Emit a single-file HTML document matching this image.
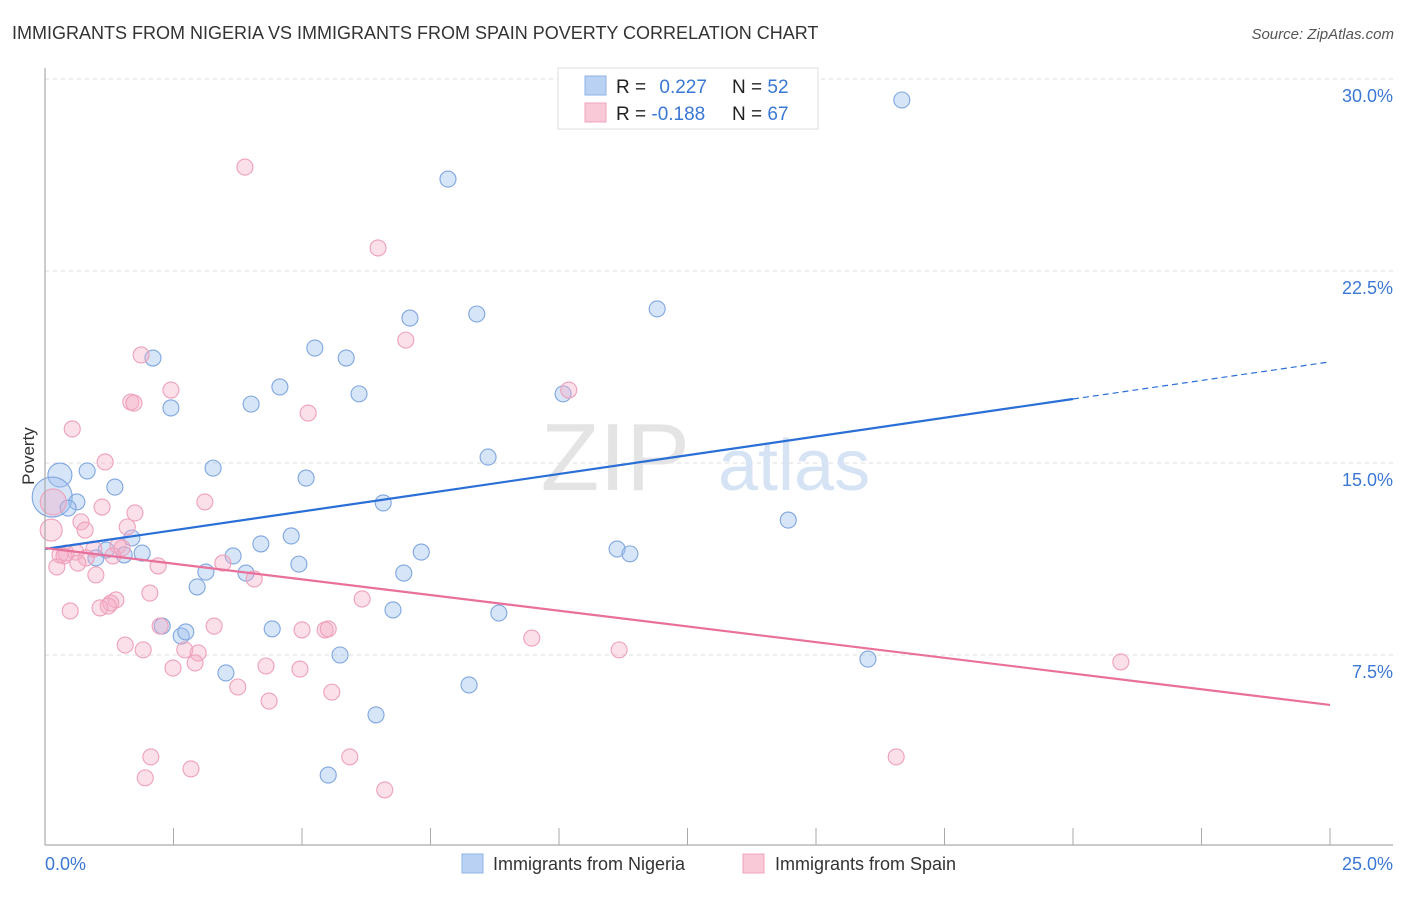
<!DOCTYPE html>
<html><head><meta charset="utf-8">
<style>
body{margin:0;background:#fff;font-family:"Liberation Sans",sans-serif;}
svg text{font-family:"Liberation Sans",sans-serif;}
</style></head>
<body>
<svg id="chart" width="1406" height="892" xmlns="http://www.w3.org/2000/svg">
<text x="12" y="39" font-size="18" fill="#333">IMMIGRANTS FROM NIGERIA VS IMMIGRANTS FROM SPAIN POVERTY CORRELATION CHART</text>
<text x="1394" y="39" font-size="15" fill="#555" font-style="italic" text-anchor="end">Source: ZipAtlas.com</text>
<g id="grid"></g>
<text x="690" y="490" font-size="96" fill="#e4e4e4" font-family="Liberation Serif" text-anchor="end">ZIP</text>
<text x="718" y="490" font-size="72" fill="#d6e3f5">atlas</text>
<g id="pts"></g>
<g id="lines"></g>
<line x1="45" y1="68" x2="45" y2="845" stroke="#aaa" stroke-width="1.2"/>
<line x1="45" y1="845" x2="1393" y2="845" stroke="#aaa" stroke-width="1.2"/>
<g id="axes"></g>
<text x="34" y="456" font-size="17" fill="#333" text-anchor="middle" transform="rotate(-90 34 456)">Poverty</text>
<g>
<rect x="558" y="68" width="260" height="61" fill="#fff" stroke="#ddd"/>
<rect x="585" y="76" width="21" height="19" fill="#b9d2f3" stroke="#8fb3e6"/>
<rect x="585" y="103" width="21" height="19" fill="#f9c9d7" stroke="#f0a3bb"/>
<text x="616" y="93" font-size="19" fill="#222">R = <tspan fill="#3a78d4" dx="8">0.227</tspan></text>
<text x="732" y="93" font-size="19" fill="#222">N = <tspan fill="#3a78d4">52</tspan></text>
<text x="616" y="120" font-size="19" fill="#222">R = <tspan fill="#3a78d4">-0.188</tspan></text>
<text x="732" y="120" font-size="19" fill="#222">N = <tspan fill="#3a78d4">67</tspan></text>
</g>
<g>
<rect x="462" y="854" width="21" height="19" fill="#b9d2f3" stroke="#8fb3e6"/>
<text x="493" y="870" font-size="18" fill="#333">Immigrants from Nigeria</text>
<rect x="743" y="854" width="21" height="19" fill="#f9c9d7" stroke="#f0a3bb"/>
<text x="775" y="870" font-size="18" fill="#333">Immigrants from Spain</text>
</g>
</svg>
<script>
const yTicks=[7.5,15,22.5,30];
const yTickLabels=["7.5%","15.0%","22.5%","30.0%"];
const xTickLabels=["0.0%","25.0%"];
const nigeriaX=[16.67,7.84,11.91,8.40,7.10,5.25,2.10,5.86,4.57,6.11,10.08,4.01,2.45,8.62,3.27,0.29,0.82,5.08,1.36,0.14,0.62,0.45,6.58,14.46,1.69,4.79,4.20,7.32,11.13,11.38,1.19,1.89,1.54,0.99,3.66,4.94,3.13,3.91,6.98,2.96,6.77,8.83,2.28,2.65,2.74,4.42,5.74,16.01,3.52,8.25,6.44,5.51];
const nigeriaY=[29.18,26.09,21.02,20.82,20.66,19.49,19.10,19.10,17.97,17.70,17.70,17.30,17.15,15.23,14.80,14.53,14.69,14.41,14.06,13.67,13.48,13.24,13.44,12.77,12.07,12.15,11.84,11.52,11.64,11.45,11.60,11.48,11.41,11.29,11.37,11.05,10.74,10.70,10.70,10.16,9.26,9.14,8.63,8.24,8.40,8.52,7.50,7.34,6.80,6.33,5.16,2.81];
const nigeriaSize=[8,8,8,8,8,8,8,8,8,8,8,8,8,8,8,12,8,8,8,20,8,8,8,8,8,8,8,8,8,8,8,8,8,8,8,8,8,8,8,8,8,8,8,8,8,8,8,8,8,8,8,8];
const spainX=[3.89,6.48,7.02,1.87,2.45,10.19,1.67,1.73,5.12,0.53,1.17,3.11,0.16,0.12,1.11,0.70,1.75,1.60,0.78,1.42,1.50,0.95,0.41,0.29,0.60,0.37,0.80,1.32,0.23,0.64,2.20,3.46,4.07,0.99,2.04,6.17,1.38,1.28,1.23,1.07,0.49,2.24,3.29,5.00,5.45,5.51,9.47,1.56,1.91,2.72,11.17,2.98,2.49,2.92,4.30,4.96,3.75,5.58,4.36,20.93,2.06,5.93,16.56,1.95,2.84,6.61];
const spainY=[26.56,23.40,19.80,19.22,17.85,17.85,17.38,17.34,16.95,16.33,15.04,13.48,13.48,12.38,13.28,12.70,13.05,12.50,12.38,11.76,11.68,11.64,11.48,11.41,11.52,11.37,11.29,11.37,10.94,11.09,10.98,11.09,10.47,10.63,9.92,9.69,9.65,9.53,9.41,9.34,9.22,8.63,8.63,8.48,8.48,8.52,8.16,7.89,7.70,7.70,7.70,7.58,6.99,7.19,7.07,6.95,6.25,6.05,5.70,7.23,3.52,3.52,3.52,2.70,3.05,2.23];
const spainSize=[8,8,8,8,8,8,8,8,8,8,8,8,13,11,8,8,8,8,8,8,8,8,8,8,8,8,8,8,8,8,8,8,8,8,8,8,8,8,8,8,8,8,8,8,8,8,8,8,8,8,8,8,8,8,8,8,8,8,8,8,8,8,8,8,8,8];
const nigeriaTrend=[11.64,17.5,18.95];
const spainTrend=[11.68,5.55];
const trendX=[0,20,25];

const NS="http://www.w3.org/2000/svg";
function sx(v){return 45+v*51.4;}
function sy(v){return 847-v*25.6;}
function mk(tag,attrs,parent){const e=document.createElementNS(NS,tag);for(const k in attrs)e.setAttribute(k,attrs[k]);parent.appendChild(e);return e;}
const grid=document.getElementById('grid'),axes=document.getElementById('axes'),pts=document.getElementById('pts'),lines=document.getElementById('lines');
yTicks.forEach((t,i)=>{
 const l=mk('line',{x1:45,x2:1393,y1:sy(t),y2:sy(t),stroke:'#ddd','stroke-dasharray':'4,4'},grid);
 
 
 const tx=mk('text',{x:1393,y:sy(t)+23,'font-size':18,fill:'#3a78d4','text-anchor':'end'},axes);
 tx.textContent=yTickLabels[i];
 
 
});
for(let i=0;i<=10;i++){
 const x=sx(i*2.5);
 const t=mk('line',{x1:x,x2:x,y1:828,y2:845,stroke:'#aaa'},axes);
 
 
}
const xl0=mk('text',{x:45,y:870,'font-size':18,fill:'#3a78d4'},axes);xl0.textContent=xTickLabels[0];


const xl1=mk('text',{x:1393,y:870,'font-size':18,fill:'#3a78d4','text-anchor':'end'},axes);xl1.textContent=xTickLabels[1];


nigeriaX.forEach((x,i)=>{
 const c=mk('circle',{cx:sx(x),cy:sy(nigeriaY[i]),r:nigeriaSize[i],fill:'rgba(160,192,238,0.42)',stroke:'#7fa6e0','stroke-width':1.1},pts);
 
 
});
spainX.forEach((x,i)=>{
 const c=mk('circle',{cx:sx(x),cy:sy(spainY[i]),r:spainSize[i],fill:'rgba(245,170,196,0.38)',stroke:'#eea0ba','stroke-width':1.1},pts);
 
 
});
const b1=mk('line',{x1:sx(trendX[0]),y1:sy(nigeriaTrend[0]),x2:sx(trendX[1]),y2:sy(nigeriaTrend[1]),stroke:'#2a6fd6','stroke-width':2.2},lines);


const b2=mk('line',{x1:sx(trendX[1]),y1:sy(nigeriaTrend[1]),x2:sx(trendX[2]),y2:sy(nigeriaTrend[2]),stroke:'#2a6fd6','stroke-width':1.2,'stroke-dasharray':'6,4'},lines);


const p1=mk('line',{x1:sx(trendX[0]),y1:sy(spainTrend[0]),x2:sx(trendX[2]),y2:sy(spainTrend[1]),stroke:'#e8709a','stroke-width':2.2},lines);


</script>
</body></html>
